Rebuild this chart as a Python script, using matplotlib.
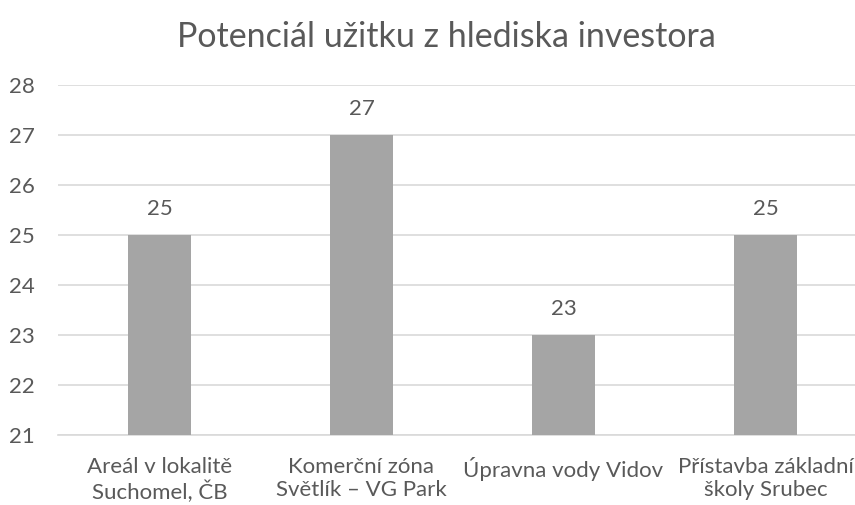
import matplotlib.pyplot as plt

categories = ['Areál v lokalitě\nSuchomel, ČB', 'Komerční zóna\nSvětlík – VG Park',
              'Úpravna vody Vidov', 'Přístavba základní\nškoly Srubec']
values = [25, 27, 23, 25]
yticks = [21, 22, 23, 24, 25, 26, 27, 28]

plt.rcParams['font.family'] = ['Lato', 'DejaVu Sans']
text_color = '#595959'

fig = plt.figure(figsize=(8.55, 5.05), dpi=100)
# the chart area runs a little past the right edge of the image, like the original
ax = fig.add_axes([0.0684, 0.1392, 0.945, 0.6931])

x = range(len(categories))
ax.bar(x, values, width=0.314, color='#A5A5A5', zorder=3, bottom=0)
ax.set_ylim(21, 28)
ax.set_xlim(-0.5, len(categories) - 0.5)
ax.set_yticks(yticks)
ax.set_xticks(list(x))
ax.set_xticklabels(categories)
ax.grid(axis='y', color='#D9D9D9', linewidth=1.2, zorder=0)

for s in ['top', 'right', 'left']:
    ax.spines[s].set_visible(False)
ax.spines['bottom'].set_color('#D9D9D9')
ax.spines['bottom'].set_linewidth(1.2)

ax.tick_params(axis='y', length=0, pad=17, labelsize=16, labelcolor=text_color)
ax.tick_params(axis='x', length=0, pad=16, labelsize=16, labelcolor=text_color)

for i, v in zip(x, values):
    ax.annotate(str(v), (i, v), xytext=(0, 11), textcoords='offset points',
                ha='center', va='bottom', fontsize=16, color=text_color)

fig.text(0.522, 0.926, 'Potenciál užitku z hlediska investora', ha='center', va='center',
         fontsize=24.5, color=text_color)

fig.savefig('out.png', dpi=100)
